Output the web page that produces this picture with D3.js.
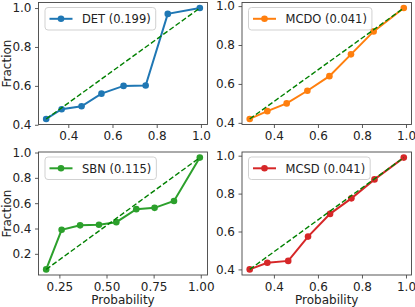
<!DOCTYPE html>
<html>
<head>
<meta charset="utf-8">
<script src="https://cdn.jsdelivr.net/npm/d3@7"></script>
<style>
  html, body { margin: 0; padding: 0; background: #fff; }
  svg { display: block; font-family: "DejaVu Sans", sans-serif; }
</style>
</head>
<body>
<svg id="chart" width="415" height="307"></svg>
<script>
// ---- data ----
const detX  = [0.30, 0.37, 0.46, 0.55, 0.65, 0.75, 0.85, 0.995];
const detY  = [0.43, 0.48, 0.495, 0.56, 0.60, 0.602, 0.97, 1.0];
const mcdoX = [0.29, 0.37, 0.458, 0.552, 0.652, 0.75, 0.853, 0.99];
const mcdoY = [0.42, 0.46, 0.50, 0.565, 0.64, 0.752, 0.87, 0.99];
const sbnX  = [0.18, 0.262, 0.36, 0.46, 0.552, 0.658, 0.755, 0.858, 0.995];
const sbnY  = [0.077, 0.39, 0.425, 0.43, 0.45, 0.553, 0.563, 0.617, 0.96];
const mcsdX = [0.29, 0.37, 0.465, 0.555, 0.655, 0.752, 0.857, 0.99];
const mcsdY = [0.40, 0.435, 0.445, 0.573, 0.693, 0.775, 0.875, 0.99];

const seriesNames = ["DET (0.199)", "MCDO (0.041)", "SBN (0.115)", "MCSD (0.041)"];
const seriesColors = ["#1f77b4", "#ff7f0e", "#2ca02c", "#d62728"];
const xTicksDefault = [0.4, 0.6, 0.8, 1.0];
const yTicksDefault = [0.4, 0.6, 0.8, 1.0];
const xTicksSbn = [0.25, 0.50, 0.75, 1.00];
const yTicksSbn = [0.2, 0.4, 0.6, 0.8, 1.0];
const xLabel = "Probability";
const yLabel = "Fraction";

// ---- layout ----
const svg = d3.select("#chart");
const cols = [{l: 38.5, r: 207.5}, {l: 242, r: 411.5}];
const rows = [{t: 2.5, b: 124.5}, {t: 152, b: 275}];

const panels = [
  {x: detX,  y: detY,  name: seriesNames[0], color: seriesColors[0], xt: xTicksDefault, yt: yTicksDefault, xf: ".1f", col: 0, row: 0},
  {x: mcdoX, y: mcdoY, name: seriesNames[1], color: seriesColors[1], xt: xTicksDefault, yt: yTicksDefault, xf: ".1f", col: 1, row: 0},
  {x: sbnX,  y: sbnY,  name: seriesNames[2], color: seriesColors[2], xt: xTicksSbn,     yt: yTicksSbn,     xf: ".2f", col: 0, row: 1},
  {x: mcsdX, y: mcsdY, name: seriesNames[3], color: seriesColors[3], xt: xTicksDefault, yt: yTicksDefault, xf: ".1f", col: 1, row: 1}
];

function padded(ext) {
  const r = ext[1] - ext[0];
  return [ext[0] - 0.05 * r, ext[1] + 0.05 * r];
}

panels.forEach(p => {
  const c = cols[p.col], rw = rows[p.row];
  const xs = d3.scaleLinear().domain(padded(d3.extent(p.x))).range([c.l, c.r]);
  const ys = d3.scaleLinear().domain(padded(d3.extent(p.y))).range([rw.b, rw.t]);
  const g = svg.append("g");

  // axes
  const xa = g.append("g").attr("transform", `translate(0,${rw.b})`)
    .call(d3.axisBottom(xs).tickValues(p.xt).tickFormat(d3.format(p.xf)).tickSize(3.5).tickPadding(3.5));
  const ya = g.append("g").attr("transform", `translate(${c.l},0)`)
    .call(d3.axisLeft(ys).tickValues(p.yt).tickFormat(d3.format(".1f")).tickSize(3.5).tickPadding(3.5));
  [xa, ya].forEach(a => {
    a.select(".domain").remove();
    a.selectAll(".tick line").attr("stroke", "#333").attr("stroke-width", 0.8);
    a.selectAll(".tick text").attr("fill", "#222").style("font-size", "12px").style("font-family", "DejaVu Sans");
  });

  const pts = p.x.map((v, i) => [v, p.y[i]]);

  // data line
  g.append("path").datum(pts)
    .attr("fill", "none").attr("stroke", p.color).attr("stroke-width", 2)
    .attr("d", d3.line().x(d => xs(d[0])).y(d => ys(d[1])));
  g.selectAll("circle.pt").data(pts).enter().append("circle")
    .attr("cx", d => xs(d[0])).attr("cy", d => ys(d[1])).attr("r", 3.3).attr("fill", p.color);

  // reference dashed line from first to last point
  const ref = [pts[0], pts[pts.length - 1]];
  g.append("path").datum(ref)
    .attr("fill", "none").attr("stroke", "#008000").attr("stroke-width", 1.4)
    .attr("stroke-dasharray", "5.2,2.4")
    .attr("d", d3.line().x(d => xs(d[0])).y(d => ys(d[1])));

  // spines
  g.append("rect").attr("x", c.l).attr("y", rw.t).attr("width", c.r - c.l).attr("height", rw.b - rw.t)
    .attr("fill", "none").attr("stroke", "#444").attr("stroke-width", 0.9);

  // legend
  const lg = g.append("g").attr("transform", `translate(${c.l + 6.5},${rw.t + 5})`);
  const box = lg.append("rect").attr("rx", 3).attr("ry", 3).attr("height", 22.5)
    .attr("fill", "#fff").attr("fill-opacity", 0.8).attr("stroke", "#ccc").attr("stroke-width", 0.9);
  lg.append("line").attr("x1", 4.5).attr("x2", 27.5).attr("y1", 11.3).attr("y2", 11.3)
    .attr("stroke", p.color).attr("stroke-width", 2);
  lg.append("circle").attr("cx", 16).attr("cy", 11.3).attr("r", 3.3).attr("fill", p.color);
  const t = lg.append("text").attr("x", 37).attr("y", 15.5).attr("fill", "#222")
    .style("font-size", "11.5px").text(p.name);
  const tw = t.node().getComputedTextLength();
  box.attr("width", 37 + tw + 5);

  // labels
  if (p.col === 0) {
    g.append("text").attr("transform", `translate(11,${(rw.t + rw.b) / 2}) rotate(-90)`)
      .attr("text-anchor", "middle").attr("fill", "#222").style("font-size", "12px").text(yLabel);
  }
  if (p.row === 1) {
    g.append("text").attr("x", (c.l + c.r) / 2).attr("y", 304)
      .attr("text-anchor", "middle").attr("fill", "#222").style("font-size", "12px").text(xLabel);
  }
});
</script>
</body>
</html>
